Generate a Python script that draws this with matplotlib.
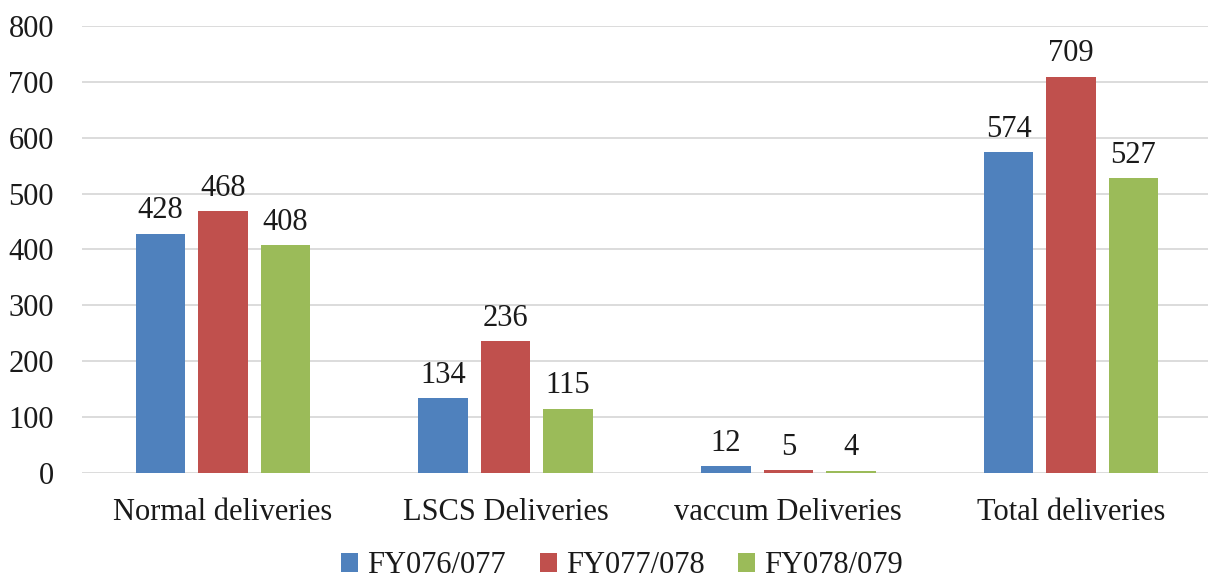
import matplotlib
matplotlib.use("Agg")
import matplotlib.pyplot as plt
import numpy as np

categories = ["Normal deliveries", "LSCS Deliveries", "vaccum Deliveries", "Total deliveries"]
series_names = ["FY076/077", "FY077/078", "FY078/079"]
fy076 = [428, 134, 12, 574]
fy077 = [468, 236, 5, 709]
fy078 = [408, 115, 4, 527]
yticks = [0, 100, 200, 300, 400, 500, 600, 700, 800]

colors = ["#4F81BD", "#C0504D", "#9BBB59"]

plt.rcParams['font.family'] = ['Liberation Serif', 'DejaVu Serif']

fig = plt.figure(figsize=(12.08, 5.78), dpi=100)
ax = fig.add_axes([0.0676, 0.182, 0.936, 0.773])

x = np.arange(len(categories))
pitch = 0.221
width = 0.175
for i, (vals, name, c) in enumerate(zip([fy076, fy077, fy078], series_names, colors)):
    bars = ax.bar(x + (i - 1) * pitch, vals, width, color=c, label=name, zorder=3)
    for b, v in zip(bars, vals):
        ax.annotate(str(v), (b.get_x() + b.get_width() / 2, v), xytext=(0, 6),
                    textcoords="offset points", ha="center", va="bottom",
                    fontsize=22, color="#1a1a1a")

ax.set_xlim(-0.5, 3.5)
ax.set_ylim(0, 800)
ax.set_yticks(yticks)
ax.set_xticks(x)
ax.set_xticklabels(categories)
ax.tick_params(axis='both', length=0, labelsize=22, colors="#1a1a1a")
ax.tick_params(axis='y', pad=20)
ax.tick_params(axis='x', pad=18)
ax.grid(axis='y', color="#d9d9d9", linewidth=1.3, zorder=0)
for s in ax.spines.values():
    s.set_visible(False)

fig.legend(loc='center', bbox_to_anchor=(0.515, 0.021), ncol=3, frameon=False,
           fontsize=22, handlelength=0.55, handleheight=0.55, handletextpad=0.3,
           columnspacing=1.1, labelcolor="#1a1a1a", borderpad=0)

fig.savefig("out.png", dpi=100)
